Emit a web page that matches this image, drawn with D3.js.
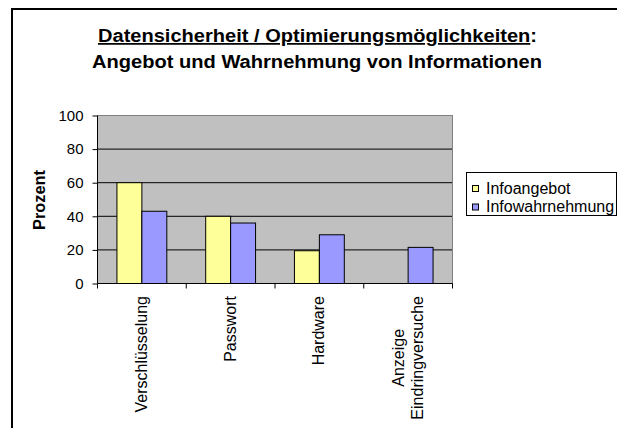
<!DOCTYPE html>
<html><head><meta charset="utf-8">
<script src="https://cdn.jsdelivr.net/npm/d3@7"></script>
<style>body{margin:0;background:#fff}svg{display:block;font-family:"Liberation Sans",Arial,sans-serif}</style>
</head><body><svg id="c" width="617" height="428"></svg>
<script>
const categories = ["Verschlüsselung","Passwort","Hardware","Anzeige\nEindringversuche"];
const seriesNames = ["Infoangebot","Infowahrnehmung"];
const infoangebot = [60, 40, 19.5, 0];
const infowahrnehmung = [43, 36, 29, 21.5];
const yTicks = [0,20,40,60,80,100];
const colors = ["#ffff99","#9999ff"];

const svg = d3.select("#c");
svg.append("rect").attr("x",12).attr("y",9).attr("width",640).attr("height",450)
  .attr("fill","none").attr("stroke","#000").attr("stroke-width",2);

const t1 = svg.append("text").attr("x",317.5).attr("y",42).attr("text-anchor","middle")
  .attr("font-weight","bold").attr("font-size",17.5)
  .attr("textLength",439).attr("lengthAdjust","spacingAndGlyphs");
t1.append("tspan").attr("text-decoration","underline").text("Datensicherheit / Optimierungsmöglichkeiten");
t1.append("tspan").text(":");
svg.append("text").attr("x",317).attr("y",68).attr("text-anchor","middle").attr("font-weight","bold").attr("font-size",17.5)
  .attr("textLength",450).attr("lengthAdjust","spacingAndGlyphs")
  .text("Angebot und Wahrnehmung von Informationen");

const L=97, R=452, T=115, B=283;
const x = d3.scaleBand().domain(categories).range([L,R]);
const xs = d3.scaleBand().domain(seriesNames).range([0,x.bandwidth()]).paddingOuter(0.78).paddingInner(0);
const y = d3.scaleLinear().domain([0,100]).range([B,T]);

svg.append("rect").attr("x",L+0.5).attr("y",T+0.5).attr("width",R-L).attr("height",B-T).attr("fill","#c0c0c0").attr("stroke","#808080");
svg.append("g").selectAll("line").data(yTicks.slice(1,-1)).join("line")
  .attr("x1",L).attr("x2",R).attr("y1",d=>y(d)+0.5).attr("y2",d=>y(d)+0.5).attr("stroke","#000");

const series = [infoangebot, infowahrnehmung];
series.forEach((vals,si)=>{
  svg.append("g").selectAll("rect").data(vals.map((v,i)=>({v,c:categories[i]}))).join("rect")
    .filter(d=>d.v>0)
    .attr("x",d=>x(d.c)+xs(seriesNames[si])+0.5).attr("y",d=>y(d.v)+0.5)
    .attr("width",xs.bandwidth()).attr("height",d=>y(0)-y(d.v))
    .attr("fill",colors[si]).attr("stroke","#000").attr("stroke-width",1);
});

const ya = svg.append("g").attr("transform",`translate(${L+0.5},0.5)`)
  .call(d3.axisLeft(y).tickValues(yTicks).tickSize(5).tickPadding(9));
ya.select(".domain").attr("d",`M0,${T}V${B}`).attr("stroke","#000");
ya.selectAll("text").attr("font-size",15).attr("font-family","Liberation Sans, Arial").attr("fill","#000");
ya.selectAll("line").attr("stroke","#000");

const xa = svg.append("g").attr("transform",`translate(0.5,${B+0.5})`);
xa.append("line").attr("x1",L).attr("x2",R).attr("stroke","#000");
xa.selectAll("line.t").data([...categories.map(c=>x(c)), R]).join("line").attr("class","t")
  .attr("x1",d=>d).attr("x2",d=>d).attr("y1",0).attr("y2",5).attr("stroke","#000");

categories.forEach(c=>{
  const lines = c.split("\n");
  const cx = x(c)+x.bandwidth()/2;
  const g = svg.append("text").attr("font-size",16);
  const spans = lines.map((ln,i)=>g.append("tspan").text(ln));
  const maxLen = d3.max(spans, s=>s.node().getComputedTextLength());
  const top = B + 13;
  if (lines.length === 1) {
    g.attr("transform",`translate(${cx},${top}) rotate(-90)`).attr("text-anchor","end");
    spans[0].attr("x",0).attr("y",5.6);
  } else {
    g.attr("transform",`translate(${cx},${top+maxLen/2}) rotate(-90)`).attr("text-anchor","middle");
    spans.forEach((s,i)=>s.attr("x",0).attr("y",(i-(lines.length-1)/2)*19 + 5.6));
  }
});

svg.append("text").attr("transform","translate(45,200) rotate(-90)").attr("text-anchor","middle")
  .attr("font-weight","bold").attr("font-size",16.4).text("Prozent");

const lg = svg.append("g");
lg.append("rect").attr("x",466.5).attr("y",172.5).attr("width",150).attr("height",43).attr("fill","#fff").attr("stroke","#000");
seriesNames.forEach((n,i)=>{
  const yy = 188 + i*18.5;
  lg.append("rect").attr("x",472.5).attr("y",yy-2.5).attr("width",6).attr("height",6).attr("fill",colors[i]).attr("stroke","#000");
  lg.append("text").attr("x",486).attr("y",yy+5.5).attr("font-size",16).text(n);
});
</script></body></html>
